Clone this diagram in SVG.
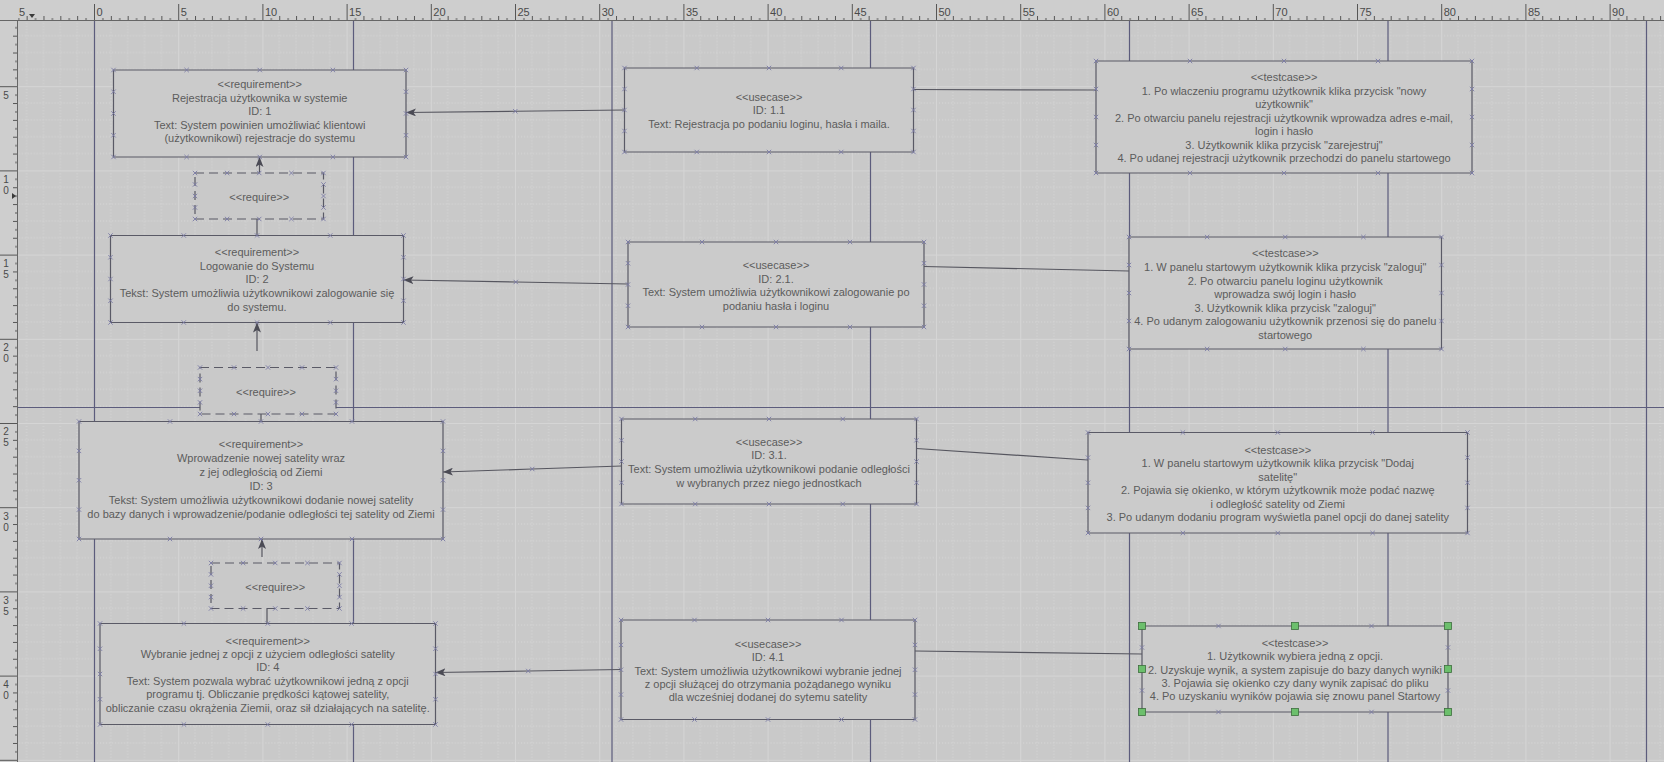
<svg xmlns="http://www.w3.org/2000/svg" width="1664" height="762" viewBox="0 0 1664 762">
<defs>
<style>
.t{font-family:"Liberation Sans",Arial,sans-serif;font-size:11px;fill:#5c5c5c;text-anchor:middle}
.rl{font-family:"Liberation Sans",Arial,sans-serif;font-size:11px;fill:#4a4a4a}
.rv{font-family:"Liberation Sans",Arial,sans-serif;font-size:10px;fill:#4a4a4a;text-anchor:middle}
.box{fill:#cbcbcb;stroke:#5a5a66;stroke-width:1.2;marker-start:url(#xm);marker-mid:url(#xm)}
.dbox{fill:#c9c9c9;stroke:#5a5a66;stroke-width:1.2;stroke-dasharray:9 5;marker-start:url(#xm);marker-mid:url(#xm)}
.ln{fill:none;stroke:#56565f;stroke-width:1.2}
.mid{marker-mid:url(#xm)}
.ar{marker-end:url(#arr)}
.pg{fill:none;stroke:#5c5c7c;stroke-width:1.2}
.hd{fill:#6cbf6c;stroke:#3d6e3d;stroke-width:0.8}
</style>
<marker id="xm" viewBox="-3 -3 6 6" refX="0" refY="0" markerWidth="6" markerHeight="6" markerUnits="userSpaceOnUse" orient="0" overflow="visible">
<path d="M-2.2,-2.2L2.2,2.2M-2.2,2.2L2.2,-2.2" fill="none" stroke="#7c7ca6" stroke-width="0.9" stroke-dasharray="none"/>
</marker>
<marker id="arr" viewBox="0 0 10 8" refX="10" refY="4" markerWidth="10" markerHeight="8" markerUnits="userSpaceOnUse" orient="auto">
<path d="M0,0L10,4L0,8L2.5,4Z" fill="#4b4b55"/>
</marker>
<pattern id="grid" patternUnits="userSpaceOnUse" x="94" y="2" width="84.2" height="84.2">
<path d="M16.84,0V84.2M33.68,0V84.2M50.52,0V84.2M67.36,0V84.2M0,16.84H84.2M0,33.68H84.2M0,50.52H84.2M0,67.36H84.2" fill="none" stroke="#d8d8d8" stroke-width="1" stroke-dasharray="1 2"/>
<path d="M0.5,0V84.2M0,0.5H84.2" fill="none" stroke="#d5d5d5" stroke-width="1"/>
</pattern>
<pattern id="rulx" patternUnits="userSpaceOnUse" x="94" y="0" width="84.2" height="21">
<path d="M0.5,4V21M8.92,18V21M17.34,16V21M25.76,18V21M34.18,16V21M42.6,18V21M51.02,16V21M59.44,18V21M67.86,16V21M76.28,18V21" fill="none" stroke="#555" stroke-width="1"/>
</pattern>
<pattern id="ruly" patternUnits="userSpaceOnUse" x="0" y="2" width="18" height="84.2">
<path d="M0,0.5H18M15,8.92H18M13,17.34H18M15,25.76H18M13,34.18H18M15,42.6H18M13,51.02H18M15,59.44H18M13,67.86H18M15,76.28H18" fill="none" stroke="#555" stroke-width="1"/>
</pattern>
</defs>

<rect x="0" y="0" width="1664" height="762" fill="#c9c9c9"/>
<rect x="18" y="21" width="1646" height="741" fill="url(#grid)"/>

<g id="page-breaks">
<path class="pg" d="M94.5,21V762M353.5,21V762M612,21V762M870.5,21V762M1129.5,21V762M1388,21V762M1646.5,21V762M18,407.5H1664"/>
</g>

<g id="connectors">
<path class="ln mid ar" d="M624.5,110L515.25,111.25L406,112.5"/>
<path class="ln" d="M913.5,89.5L1096,90"/>
<path class="ln mid ar" d="M628,284L515.75,282L403.5,280"/>
<path class="ln" d="M924,266.5L1129,271"/>
<path class="ln mid ar" d="M621.5,466L532.25,469L443,472"/>
<path class="ln" d="M916.5,448.5L1088,460"/>
<path class="ln mid ar" d="M621,669.5L528.25,671L435.5,672.5"/>
<path class="ln" d="M915,651L1142,654"/>
<path class="ln ar" d="M259.5,173V157"/>
<path class="ln" d="M257,219V235.5"/>
<path class="ln ar" d="M257,351V322.5"/>
<path class="ln" d="M261,414V421.5"/>
<path class="ln ar" d="M262,557V539"/>
<path class="ln" d="M267,608.5V623.5"/>
</g>

<g id="req1">
<path class="box" d="M113.5,70H186.6H259.75H332.9H406V91.75V113.5V135.25V157H332.9H259.75H186.6H113.5V135.25V113.5V91.75Z"/>
<text class="t"><tspan x="259.75" y="88">&lt;&lt;requirement&gt;&gt;</tspan><tspan x="259.75" y="101.5">Rejestracja użytkownika w systemie</tspan><tspan x="259.75" y="115">ID: 1</tspan><tspan x="259.75" y="128.5">Text: System powinien umożliwiać klientowi</tspan><tspan x="259.75" y="142">(użytkownikowi) rejestracje do systemu</tspan></text>
</g>
<g id="require1">
<path class="dbox" d="M195,173H227.1H259.25H291.4H323.5V184.5V196V207.5V219H291.4H259.25H227.1H195V207.5V196V184.5Z"/>
<text class="t" x="259.25" y="200.5">&lt;&lt;require&gt;&gt;</text>
</g>
<g id="req2">
<path class="box" d="M110.5,235.5H183.75H257H330.25H403.5V257.25V279V300.75V322.5H330.25H257H183.75H110.5V300.75V279V257.25Z"/>
<text class="t"><tspan x="257" y="256">&lt;&lt;requirement&gt;&gt;</tspan><tspan x="257" y="269.7">Logowanie do Systemu</tspan><tspan x="257" y="283.4">ID: 2</tspan><tspan x="257" y="297.1">Tekst: System umożliwia użytkownikowi zalogowanie się</tspan><tspan x="257" y="310.8">do systemu.</tspan></text>
</g>
<g id="require2">
<path class="dbox" d="M200,367.5H234H268H302H336V379.1V390.75V402.4V414H302H268H234H200V402.4V390.75V379.1Z"/>
<text class="t" x="266" y="395.5">&lt;&lt;require&gt;&gt;</text>
</g>
<g id="req3">
<path class="box" d="M79,421.5H170H261H352H443V450.9V480.25V509.6V539H352H261H170H79V509.6V480.25V450.9Z"/>
<text class="t"><tspan x="261" y="448">&lt;&lt;requirement&gt;&gt;</tspan><tspan x="261" y="461.9">Wprowadzenie nowej satelity wraz</tspan><tspan x="261" y="475.8">z jej odległością od Ziemi</tspan><tspan x="261" y="489.7">ID: 3</tspan><tspan x="261" y="503.6">Tekst: System umożliwia użytkownikowi dodanie nowej satelity</tspan><tspan x="261" y="517.5">do bazy danych i wprowadzenie/podanie odległości tej satelity od Ziemi</tspan></text>
</g>
<g id="require3">
<path class="dbox" d="M211,563H243.1H275.25H307.4H339.5V574.4V585.75V597.1V608.5H307.4H275.25H243.1H211V597.1V585.75V574.4Z"/>
<text class="t" x="275.25" y="590.5">&lt;&lt;require&gt;&gt;</text>
</g>
<g id="req4">
<path class="box" d="M100,623.5H183.9H267.75H351.6H435.5V648.75V674V699.25V724.5H351.6H267.75H183.9H100V699.25V674V648.75Z"/>
<text class="t"><tspan x="267.75" y="644.5">&lt;&lt;requirement&gt;&gt;</tspan><tspan x="267.75" y="657.9">Wybranie jednej z opcji z użyciem odległości satelity</tspan><tspan x="267.75" y="671.3">ID: 4</tspan><tspan x="267.75" y="684.7">Text: System pozwala wybrać użytkownikowi jedną z opcji</tspan><tspan x="267.75" y="698.1">programu tj. Obliczanie prędkości kątowej satelity,</tspan><tspan x="267.75" y="711.5">obliczanie czasu okrążenia Ziemii, oraz sił działających na satelitę.</tspan></text>
</g>

<g id="uc1">
<path class="box" d="M624.5,68H696.75H769H841.25H913.5V89V110V131V152H841.25H769H696.75H624.5V131V110V89Z"/>
<text class="t"><tspan x="769" y="101">&lt;&lt;usecase&gt;&gt;</tspan><tspan x="769" y="114.3">ID: 1.1</tspan><tspan x="769" y="127.6">Text: Rejestracja po podaniu loginu, hasła i maila.</tspan></text>
</g>
<g id="uc2">
<path class="box" d="M628,242H702H776H850H924V263.25V284.5V305.75V327H850H776H702H628V305.75V284.5V263.25Z"/>
<text class="t"><tspan x="776" y="269">&lt;&lt;usecase&gt;&gt;</tspan><tspan x="776" y="282.6">ID: 2.1.</tspan><tspan x="776" y="296.2">Text: System umożliwia użytkownikowi zalogowanie po</tspan><tspan x="776" y="309.8">podaniu hasła i loginu</tspan></text>
</g>
<g id="uc3">
<path class="box" d="M621.5,419H695.25H769H842.75H916.5V440.25V461.5V482.75V504H842.75H769H695.25H621.5V482.75V461.5V440.25Z"/>
<text class="t"><tspan x="769" y="445.5">&lt;&lt;usecase&gt;&gt;</tspan><tspan x="769" y="459.2">ID: 3.1.</tspan><tspan x="769" y="472.9">Text: System umożliwia użytkownikowi podanie odległości</tspan><tspan x="769" y="486.6">w wybranych przez niego jednostkach</tspan></text>
</g>
<g id="uc4">
<path class="box" d="M621,620H694.5H768H841.5H915V644.9V669.75V694.6V719.5H841.5H768H694.5H621V694.6V669.75V644.9Z"/>
<text class="t"><tspan x="768" y="648">&lt;&lt;usecase&gt;&gt;</tspan><tspan x="768" y="661.3">ID: 4.1</tspan><tspan x="768" y="674.6">Text: System umożliwia użytkownikowi wybranie jednej</tspan><tspan x="768" y="687.9">z opcji służącej do otrzymania pożądanego wyniku</tspan><tspan x="768" y="701.2">dla wcześniej dodanej do sytemu satelity</tspan></text>
</g>

<g id="tc1">
<path class="box" d="M1096,61H1190H1284H1378H1472V89V117V145V173H1378H1284H1190H1096V145V117V89Z"/>
<text class="t"><tspan x="1284" y="81.4">&lt;&lt;testcase&gt;&gt;</tspan><tspan x="1284" y="94.9">1. Po wlaczeniu programu użytkownik klika przycisk "nowy</tspan><tspan x="1284" y="108.3">użytkownik"</tspan><tspan x="1284" y="121.8">2. Po otwarciu panelu rejestracji użytkownik wprowadza adres e-mail,</tspan><tspan x="1284" y="135.3">login i hasło</tspan><tspan x="1284" y="148.7">3. Użytkownik klika przycisk "zarejestruj"</tspan><tspan x="1284" y="162.2">4. Po udanej rejestracji użytkownik przechodzi do panelu startowego</tspan></text>
</g>
<g id="tc2">
<path class="box" d="M1129,237H1207.1H1285.25H1363.4H1441.5V265V293V321V349H1363.4H1285.25H1207.1H1129V321V293V265Z"/>
<text class="t"><tspan x="1285.25" y="257.3">&lt;&lt;testcase&gt;&gt;</tspan><tspan x="1285.25" y="270.9">1. W panelu startowym użytkownik klika przycisk "zaloguj"</tspan><tspan x="1285.25" y="284.5">2. Po otwarciu panelu loginu użytkownik</tspan><tspan x="1285.25" y="298.1">wprowadza swój login i hasło</tspan><tspan x="1285.25" y="311.7">3. Użytkownik klika przycisk "zaloguj"</tspan><tspan x="1285.25" y="325.3">4. Po udanym zalogowaniu użytkownik przenosi się do panelu</tspan><tspan x="1285.25" y="338.9">startowego</tspan></text>
</g>
<g id="tc3">
<path class="box" d="M1088,432.5H1182.9H1277.75H1372.6H1467.5V457.6V482.75V507.9V533H1372.6H1277.75H1182.9H1088V507.9V482.75V457.6Z"/>
<text class="t"><tspan x="1277.75" y="454">&lt;&lt;testcase&gt;&gt;</tspan><tspan x="1277.75" y="467.4">1. W panelu startowym użytkownik klika przycisk "Dodaj</tspan><tspan x="1277.75" y="480.8">satelitę"</tspan><tspan x="1277.75" y="494.2">2. Pojawia się okienko, w którym użytkownik może podać nazwę</tspan><tspan x="1277.75" y="507.6">i odległość satelity od Ziemi</tspan><tspan x="1277.75" y="521">3. Po udanym dodaniu program wyświetla panel opcji do danej satelity</tspan></text>
</g>
<g id="tc4">
<path class="box" d="M1142,626H1218.5H1295H1371.5H1448V647.5V669V690.5V712H1371.5H1295H1218.5H1142V690.5V669V647.5Z"/>
<text class="t"><tspan x="1295" y="647">&lt;&lt;testcase&gt;&gt;</tspan><tspan x="1295" y="660.3">1. Użytkownik wybiera jedną z opcji.</tspan><tspan x="1295" y="673.6">2. Uzyskuje wynik, a system zapisuje do bazy danych wyniki</tspan><tspan x="1295" y="686.9">3. Pojawia się okienko czy dany wynik zapisać do pliku</tspan><tspan x="1295" y="700.2">4. Po uzyskaniu wyników pojawia się znowu panel Startowy</tspan></text>
<g id="tc4-handles">
<rect class="hd" x="1138.5" y="622.5" width="7" height="7"/>
<rect class="hd" x="1291.5" y="622.5" width="7" height="7"/>
<rect class="hd" x="1444.5" y="622.5" width="7" height="7"/>
<rect class="hd" x="1138.5" y="665.5" width="7" height="7"/>
<rect class="hd" x="1444.5" y="665.5" width="7" height="7"/>
<rect class="hd" x="1138.5" y="708.5" width="7" height="7"/>
<rect class="hd" x="1291.5" y="708.5" width="7" height="7"/>
<rect class="hd" x="1444.5" y="708.5" width="7" height="7"/>
</g>
</g>

<g id="rulers">
<rect x="0" y="0" width="1664" height="21" fill="#cecece"/>
<rect x="0" y="21" width="18" height="741" fill="#cecece"/>
<rect x="18" y="0" width="1646" height="21" fill="url(#rulx)"/>
<rect x="0" y="21" width="18" height="741" fill="url(#ruly)"/>
<path d="M0,20.5H1664M17.5,21V762" fill="none" stroke="#666" stroke-width="1"/>
<polygon points="29,14 35,14 32,18" fill="#3a3a3a"/>
<polygon points="12,193 12,199 16,196" fill="#3a3a3a"/>
<g class="rl">
<text x="19" y="16">5</text>
<text x="96.5" y="16">0</text>
<text x="180.7" y="16">5</text>
<text x="264.9" y="16">10</text>
<text x="349.1" y="16">15</text>
<text x="433.3" y="16">20</text>
<text x="517.5" y="16">25</text>
<text x="601.7" y="16">30</text>
<text x="685.9" y="16">35</text>
<text x="770.1" y="16">40</text>
<text x="854.3" y="16">45</text>
<text x="938.5" y="16">50</text>
<text x="1022.7" y="16">55</text>
<text x="1106.9" y="16">60</text>
<text x="1191.1" y="16">65</text>
<text x="1275.3" y="16">70</text>
<text x="1359.5" y="16">75</text>
<text x="1443.7" y="16">80</text>
<text x="1527.9" y="16">85</text>
<text x="1612.1" y="16">90</text>
</g>
<g class="rv">
<text x="6" y="98.5">5</text>
<text><tspan x="6" y="182.7">1</tspan><tspan x="6" y="193.7">0</tspan></text>
<text><tspan x="6" y="266.9">1</tspan><tspan x="6" y="277.9">5</tspan></text>
<text><tspan x="6" y="351.1">2</tspan><tspan x="6" y="362.1">0</tspan></text>
<text><tspan x="6" y="435.3">2</tspan><tspan x="6" y="446.3">5</tspan></text>
<text><tspan x="6" y="519.5">3</tspan><tspan x="6" y="530.5">0</tspan></text>
<text><tspan x="6" y="603.7">3</tspan><tspan x="6" y="614.7">5</tspan></text>
<text><tspan x="6" y="687.9">4</tspan><tspan x="6" y="698.9">0</tspan></text>
</g>
</g>
</svg>
